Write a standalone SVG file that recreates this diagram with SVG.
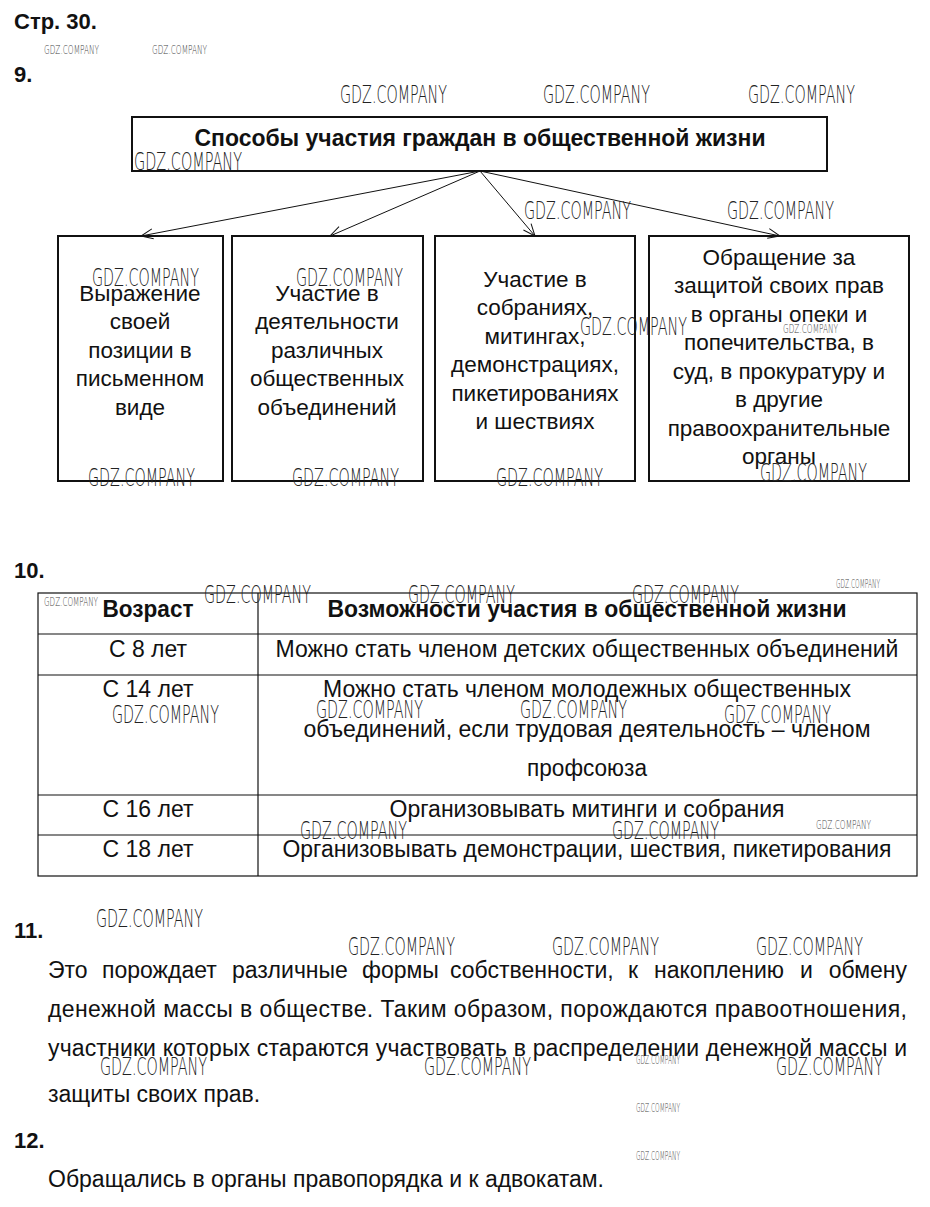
<svg xmlns="http://www.w3.org/2000/svg" width="930" height="1207" viewBox="0 0 930 1207">
<style>
.t{font-family:"Liberation Sans",Arial,sans-serif;font-size:23px;fill:#111}
.bx{font-size:22.5px}
.tb{font-size:23px}
.c{text-anchor:middle}
.b{font-weight:bold}
.h{font-family:"Liberation Sans",Arial,sans-serif;font-weight:bold;font-size:22px;fill:#111}
.wm{font-family:"DejaVu Sans",sans-serif;font-weight:200;font-size:25px;fill:#222}
.ws{font-family:"DejaVu Sans",sans-serif;font-weight:200;font-size:12px;fill:#444}
.box{fill:none;stroke:#111;stroke-width:2}
.tl{stroke:#111;stroke-width:1.2;fill:none}
.cn{stroke:#111;stroke-width:1;fill:none}
</style>
<defs>
<marker id="ah" markerWidth="14" markerHeight="12" refX="13" refY="6" orient="auto" markerUnits="userSpaceOnUse">
<path d="M1,1 L13,6 L1,11" fill="none" stroke="#111" stroke-width="1"/>
</marker>
</defs>
<rect width="930" height="1207" fill="#fff"/>

<g id="headings">
<text class="h" x="14" y="29">Стр. 30.</text>
<text class="h" x="14" y="82">9.</text>
<text class="h" x="14" y="578">10.</text>
<text class="h" x="14" y="938">11.</text>
<text class="h" x="14" y="1148">12.</text>
</g>

<g id="root">
<rect class="box" x="132" y="117" width="695" height="54"/>
<text class="t b c" x="480" y="146" textLength="571" lengthAdjust="spacingAndGlyphs">Способы участия граждан в общественной жизни</text>
</g>

<g id="connectors">
<line class="cn" x1="480" y1="171" x2="141" y2="236" marker-end="url(#ah)"/>
<line class="cn" x1="480" y1="171" x2="330" y2="236" marker-end="url(#ah)"/>
<line class="cn" x1="480" y1="171" x2="535" y2="236" marker-end="url(#ah)"/>
<line class="cn" x1="480" y1="171" x2="780" y2="236" marker-end="url(#ah)"/>
</g>

<g id="n1">
<rect class="box" x="58" y="236" width="165" height="245"/>
<text class="t bx c" x="140" y="301">Выражение</text>
<text class="t bx c" x="140" y="329">своей</text>
<text class="t bx c" x="140" y="358">позиции в</text>
<text class="t bx c" x="140" y="386">письменном</text>
<text class="t bx c" x="140" y="415">виде</text>
</g>
<g id="n2">
<rect class="box" x="232" y="236" width="191" height="245"/>
<text class="t bx c" x="327" y="301">Участие в</text>
<text class="t bx c" x="327" y="329">деятельности</text>
<text class="t bx c" x="327" y="358">различных</text>
<text class="t bx c" x="327" y="386">общественных</text>
<text class="t bx c" x="327" y="415">объединений</text>
</g>
<g id="n3">
<rect class="box" x="435" y="236" width="200" height="245"/>
<text class="t bx c" x="535" y="287">Участие в</text>
<text class="t bx c" x="535" y="315">собраниях,</text>
<text class="t bx c" x="535" y="344">митингах,</text>
<text class="t bx c" x="535" y="372">демонстрациях,</text>
<text class="t bx c" x="535" y="401">пикетированиях</text>
<text class="t bx c" x="535" y="429">и шествиях</text>
</g>
<g id="n4">
<rect class="box" x="649" y="236" width="260" height="245"/>
<text class="t bx c" x="779" y="265">Обращение за</text>
<text class="t bx c" x="779" y="293">защитой своих прав</text>
<text class="t bx c" x="779" y="322">в органы опеки и</text>
<text class="t bx c" x="779" y="350">попечительства, в</text>
<text class="t bx c" x="779" y="379">суд, в прокуратуру и</text>
<text class="t bx c" x="779" y="407">в другие</text>
<text class="t bx c" x="779" y="436">правоохранительные</text>
<text class="t bx c" x="779" y="464">органы</text>
</g>

<g id="table">
<rect class="tl" x="38" y="593" width="879" height="283"/>
<line class="tl" x1="258" y1="593" x2="258" y2="876"/>
<line class="tl" x1="38" y1="634" x2="917" y2="634"/>
<line class="tl" x1="38" y1="675" x2="917" y2="675"/>
<line class="tl" x1="38" y1="795" x2="917" y2="795"/>
<line class="tl" x1="38" y1="835" x2="917" y2="835"/>
<text class="t tb b c" x="148" y="617" textLength="91" lengthAdjust="spacingAndGlyphs">Возраст</text>
<text class="t tb b c" x="587" y="617" textLength="519" lengthAdjust="spacingAndGlyphs">Возможности участия в общественной жизни</text>
<text class="t tb c" x="148" y="657" textLength="78" lengthAdjust="spacingAndGlyphs">С 8 лет</text>
<text class="t tb c" x="587" y="657" textLength="623" lengthAdjust="spacingAndGlyphs">Можно стать членом детских общественных объединений</text>
<text class="t tb c" x="148" y="697" textLength="91" lengthAdjust="spacingAndGlyphs">С 14 лет</text>
<text class="t tb c" x="587" y="697" textLength="528" lengthAdjust="spacingAndGlyphs">Можно стать членом молодежных общественных</text>
<text class="t tb c" x="587" y="737" textLength="567" lengthAdjust="spacingAndGlyphs">объединений, если трудовая деятельность – членом</text>
<text class="t tb c" x="587" y="776" textLength="120" lengthAdjust="spacingAndGlyphs">профсоюза</text>
<text class="t tb c" x="148" y="817" textLength="91" lengthAdjust="spacingAndGlyphs">С 16 лет</text>
<text class="t tb c" x="587" y="817" textLength="395" lengthAdjust="spacingAndGlyphs">Организовывать митинги и собрания</text>
<text class="t tb c" x="148" y="857" textLength="91" lengthAdjust="spacingAndGlyphs">С 18 лет</text>
<text class="t tb c" x="587" y="857" textLength="609" lengthAdjust="spacingAndGlyphs">Организовывать демонстрации, шествия, пикетирования</text>
</g>

<g id="answer11">
<text class="t" y="978"><tspan x="48">Это</tspan><tspan x="102">порождает</tspan><tspan x="232">различные</tspan><tspan x="362">формы</tspan><tspan x="450">собственности,</tspan><tspan x="628">к</tspan><tspan x="654">накоплению</tspan><tspan x="800">и</tspan><tspan x="907" text-anchor="end">обмену</tspan></text>
<text class="t" x="48" y="1017" textLength="859" lengthAdjust="spacing">денежной массы в обществе. Таким образом, порождаются правоотношения,</text>
<text class="t" x="48" y="1056" textLength="859" lengthAdjust="spacing">участники которых стараются участвовать в распределении денежной массы и</text>
<text class="t" x="48" y="1102">защиты своих прав.</text>
</g>

<g id="answer12">
<text class="t" x="48" y="1187">Обращались в органы правопорядка и к адвокатам.</text>
</g>

<g id="watermarks">
<text class="ws" x="44" y="54" textLength="55" lengthAdjust="spacingAndGlyphs">GDZ.COMPANY</text>
<text class="ws" x="152" y="54" textLength="55" lengthAdjust="spacingAndGlyphs">GDZ.COMPANY</text>
<text class="wm" x="340" y="103" textLength="107" lengthAdjust="spacingAndGlyphs">GDZ.COMPANY</text>
<text class="wm" x="543" y="103" textLength="107" lengthAdjust="spacingAndGlyphs">GDZ.COMPANY</text>
<text class="wm" x="748" y="103" textLength="107" lengthAdjust="spacingAndGlyphs">GDZ.COMPANY</text>
<text class="wm" x="134" y="170" textLength="108" lengthAdjust="spacingAndGlyphs">GDZ.COMPANY</text>
<text class="wm" x="524" y="219" textLength="107" lengthAdjust="spacingAndGlyphs">GDZ.COMPANY</text>
<text class="wm" x="727" y="219" textLength="107" lengthAdjust="spacingAndGlyphs">GDZ.COMPANY</text>
<text class="wm" x="92" y="286" textLength="107" lengthAdjust="spacingAndGlyphs">GDZ.COMPANY</text>
<text class="wm" x="296" y="286" textLength="107" lengthAdjust="spacingAndGlyphs">GDZ.COMPANY</text>
<text class="wm" x="580" y="335" textLength="107" lengthAdjust="spacingAndGlyphs">GDZ.COMPANY</text>
<text class="ws" x="783" y="333" textLength="55" lengthAdjust="spacingAndGlyphs">GDZ.COMPANY</text>
<text class="wm" x="88" y="486" textLength="107" lengthAdjust="spacingAndGlyphs">GDZ.COMPANY</text>
<text class="wm" x="292" y="486" textLength="107" lengthAdjust="spacingAndGlyphs">GDZ.COMPANY</text>
<text class="wm" x="496" y="486" textLength="107" lengthAdjust="spacingAndGlyphs">GDZ.COMPANY</text>
<text class="wm" x="760" y="481" textLength="107" lengthAdjust="spacingAndGlyphs">GDZ.COMPANY</text>
<text class="wm" x="204" y="603" textLength="107" lengthAdjust="spacingAndGlyphs">GDZ.COMPANY</text>
<text class="wm" x="408" y="603" textLength="107" lengthAdjust="spacingAndGlyphs">GDZ.COMPANY</text>
<text class="wm" x="632" y="603" textLength="107" lengthAdjust="spacingAndGlyphs">GDZ.COMPANY</text>
<text class="ws" x="836" y="588" textLength="44" lengthAdjust="spacingAndGlyphs">GDZ.COMPANY</text>
<text class="ws" x="44" y="606" textLength="54" lengthAdjust="spacingAndGlyphs">GDZ.COMPANY</text>
<text class="wm" x="112" y="723" textLength="107" lengthAdjust="spacingAndGlyphs">GDZ.COMPANY</text>
<text class="wm" x="316" y="718" textLength="107" lengthAdjust="spacingAndGlyphs">GDZ.COMPANY</text>
<text class="wm" x="520" y="718" textLength="107" lengthAdjust="spacingAndGlyphs">GDZ.COMPANY</text>
<text class="wm" x="724" y="723" textLength="107" lengthAdjust="spacingAndGlyphs">GDZ.COMPANY</text>
<text class="wm" x="300" y="839" textLength="107" lengthAdjust="spacingAndGlyphs">GDZ.COMPANY</text>
<text class="wm" x="612" y="839" textLength="107" lengthAdjust="spacingAndGlyphs">GDZ.COMPANY</text>
<text class="ws" x="816" y="829" textLength="55" lengthAdjust="spacingAndGlyphs">GDZ.COMPANY</text>
<text class="wm" x="96" y="927" textLength="107" lengthAdjust="spacingAndGlyphs">GDZ.COMPANY</text>
<text class="wm" x="348" y="955" textLength="107" lengthAdjust="spacingAndGlyphs">GDZ.COMPANY</text>
<text class="wm" x="552" y="955" textLength="107" lengthAdjust="spacingAndGlyphs">GDZ.COMPANY</text>
<text class="wm" x="756" y="955" textLength="107" lengthAdjust="spacingAndGlyphs">GDZ.COMPANY</text>
<text class="wm" x="100" y="1075" textLength="107" lengthAdjust="spacingAndGlyphs">GDZ.COMPANY</text>
<text class="wm" x="424" y="1075" textLength="107" lengthAdjust="spacingAndGlyphs">GDZ.COMPANY</text>
<text class="ws" x="636" y="1064" textLength="44" lengthAdjust="spacingAndGlyphs">GDZ.COMPANY</text>
<text class="wm" x="776" y="1075" textLength="107" lengthAdjust="spacingAndGlyphs">GDZ.COMPANY</text>
<text class="ws" x="636" y="1112" textLength="44" lengthAdjust="spacingAndGlyphs">GDZ.COMPANY</text>
<text class="ws" x="636" y="1160" textLength="44" lengthAdjust="spacingAndGlyphs">GDZ.COMPANY</text>
</g>
</svg>
